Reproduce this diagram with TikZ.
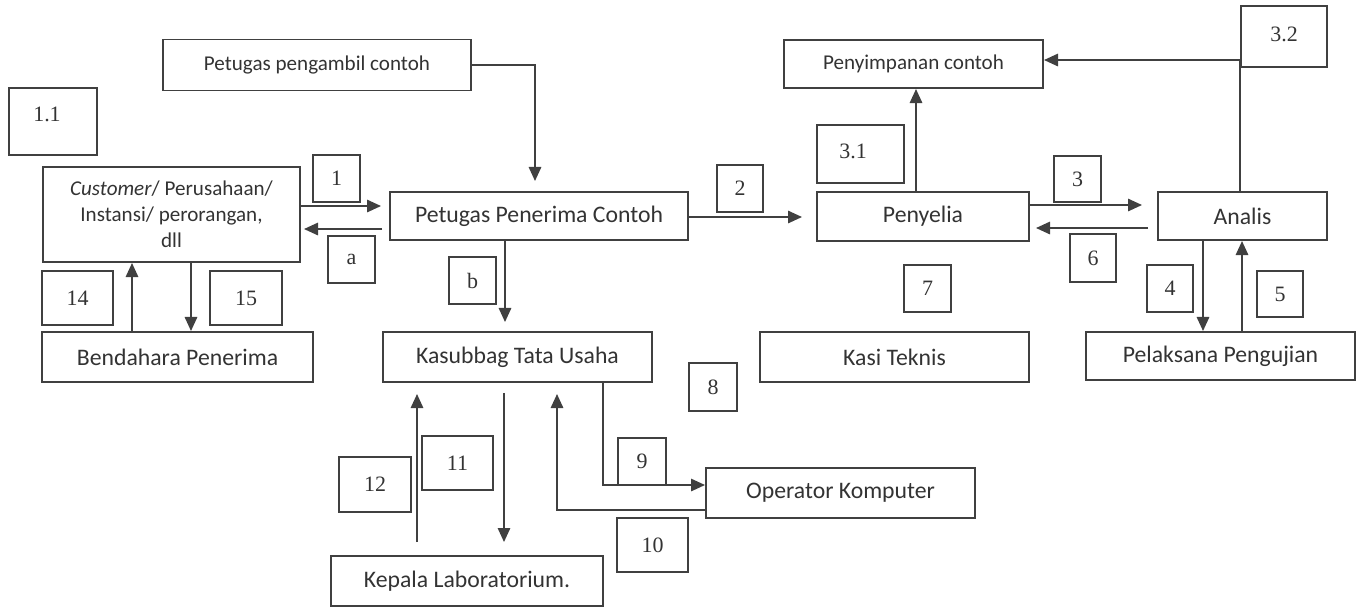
\documentclass[tikz,border=0pt]{standalone}
\usepackage{fontspec}
\setmainfont{Carlito}
\newfontfamily\numfont{Liberation Serif}
\usetikzlibrary{arrows.meta}
\tikzset{
  blok/.style={draw=black!75, line width=1.1pt, text=black!80, inner sep=0pt,
    font=\fontsize{13.5}{16}\selectfont},
  kecil/.style={blok, font=\fontsize{12}{14.7}\selectfont},
  nomor/.style={draw=black!75, line width=1.1pt, text=black!80, inner sep=0pt,
    font=\numfont\fontsize{12.5}{14}\selectfont},
  alur/.style={draw=black!75, line width=1.2pt, -{Triangle[length=8pt,width=7pt]}}
}

\begin{document}
\begin{tikzpicture}[x=0.02cm,y=-0.02cm]
  \useasboundingbox (0,0) rectangle (1358,610);

  %main boxes, left part
  \node[kecil, minimum width=6.16cm, minimum height=1.02cm] (pengambil) at (317,65) {Petugas pengambil contoh};
  \node[kecil, minimum width=5.14cm, minimum height=1.90cm, align=center] (cust) at (171.5,214.5)
    {\textit{Customer}/ Perusahaan/\\Instansi/ perorangan,\\dll};
  \node[blok, minimum width=5.42cm, minimum height=1.00cm] (bend) at (177.5,357) {Bendahara Penerima};
  \node[blok, minimum width=5.96cm, minimum height=0.96cm] (pene) at (539,216) {Petugas Penerima Contoh};
  \node[blok, minimum width=5.38cm, minimum height=1.00cm] (kasub) at (517.5,357) {Kasubbag Tata Usaha};
  \node[blok, minimum width=5.44cm, minimum height=1.00cm] (kepala) at (467,581) {Kepala Laboratorium.};
  \node[blok, minimum width=5.38cm, minimum height=1.00cm] (oper) at (840.5,493) {Operator Komputer};

  %main boxes, right part
  \node[kecil, minimum width=5.18cm, minimum height=0.96cm] (simpan) at (913.5,64) {Penyimpanan contoh};
  \node[blok, minimum width=4.24cm, minimum height=0.98cm] (peny) at (923,216.5) {Penyelia};
  \node[blok, minimum width=3.38cm, minimum height=0.96cm] (anal) at (1242.5,216) {Analis};
  \node[blok, minimum width=5.38cm, minimum height=1.00cm] (kasi) at (894.5,357) {Kasi Teknis};
  \node[blok, minimum width=5.38cm, minimum height=0.96cm] (pelak) at (1220.5,356) {Pelaksana Pengujian};

  %step numbers
  \node[nomor, minimum width=1.76cm, minimum height=1.34cm] (n11) at (53,121.5) {\raisebox{0.3cm}{1.1}\hspace*{0.24cm}};
  \node[nomor, minimum width=0.94cm, minimum height=0.94cm] (n1) at (336.5,178.5) {1};
  \node[nomor, minimum width=0.94cm, minimum height=0.94cm] (na) at (351.5,259.5) {a};
  \node[nomor, minimum width=1.42cm, minimum height=1.08cm] (n14) at (77.5,298) {14};
  \node[nomor, minimum width=1.44cm, minimum height=1.08cm] (n15) at (246,298) {15};
  \node[nomor, minimum width=0.94cm, minimum height=0.94cm] (nb) at (472.5,280.5) {b};
  \node[nomor, minimum width=0.92cm, minimum height=0.94cm] (n2) at (740,188.5) {2};
  \node[nomor, minimum width=1.74cm, minimum height=1.16cm] (n31) at (860.5,154) {\raisebox{0.12cm}{3.1}\hspace*{0.3cm}};
  \node[nomor, minimum width=1.72cm, minimum height=1.22cm] (n32) at (1284,36.5) {\raisebox{0.1cm}{3.2}};
  \node[nomor, minimum width=0.94cm, minimum height=0.92cm] (n3) at (1077.5,179) {3};
  \node[nomor, minimum width=0.92cm, minimum height=0.96cm] (n6) at (1093,258) {6};
  \node[nomor, minimum width=0.92cm, minimum height=0.94cm] (n4) at (1170,288.5) {4};
  \node[nomor, minimum width=0.92cm, minimum height=0.92cm] (n5) at (1280,294) {5};
  \node[nomor, minimum width=0.94cm, minimum height=0.94cm] (n7) at (927.5,288.5) {7};
  \node[nomor, minimum width=0.96cm, minimum height=0.96cm] (n8) at (713,387) {8};
  \node[nomor, minimum width=0.96cm, minimum height=0.94cm] (n9) at (642,461.5) {9};
  \node[nomor, minimum width=1.42cm, minimum height=1.08cm] (n10) at (652.5,545) {10};
  \node[nomor, minimum width=1.42cm, minimum height=1.08cm] (n11b) at (457.5,463) {11};
  \node[nomor, minimum width=1.44cm, minimum height=1.10cm] (n12) at (375,484.5) {12};

  %flow of the sample
  \draw[alur, shorten >=0.2cm] (pengambil.east) -| (535,0 |- pene.north);
  \draw[alur, shorten >=0.16cm] (cust.east |- 0,206) -- (pene.west |- 0,206);
  \draw[alur, shorten <=0.14cm, shorten >=0.06cm] (pene.west |- 0,229) -- (cust.east |- 0,229);
  \draw[alur, shorten >=0.18cm] (505,0 |- pene.south) -- (505,0 |- kasub.north);
  \draw[alur, shorten >=0.28cm] (pene.east |- 0,217) -- (peny.west |- 0,217);

  %penyelia, analis and storage
  \draw[alur] (916,0 |- peny.north) -- (916,0 |- simpan.south);
  \draw[alur, shorten >=0.3cm] (peny.east |- 0,205) -- (anal.west |- 0,205);
  \draw[alur, shorten <=0.18cm, shorten >=0.12cm] (anal.west |- 0,228) -- (peny.east |- 0,228);
  \draw[alur] (1240,0 |- anal.north) |- (simpan.east |- 0,60);
  \draw[alur] (1203,0 |- anal.south) -- (1203,0 |- pelak.north);
  \draw[alur] (1242,0 |- pelak.north) -- (1242,0 |- anal.south);

  %payment
  \draw[alur] (132,0 |- bend.north) -- (132,0 |- cust.south);
  \draw[alur] (191,0 |- cust.south) -- (191,0 |- bend.north);

  %administration
  \draw[alur] (603,0 |- kasub.south) |- (oper.west |- 0,485);
  \draw[alur, shorten >=0.22cm] (oper.west |- 0,510) -| (557,0 |- kasub.south);
  \draw[alur, shorten <=0.2cm, shorten >=0.26cm] (504,0 |- kasub.south) -- (504,0 |- kepala.north);
  \draw[alur, shorten <=0.26cm, shorten >=0.22cm] (417,0 |- kepala.north) -- (417,0 |- kasub.south);
\end{tikzpicture}
\end{document}
